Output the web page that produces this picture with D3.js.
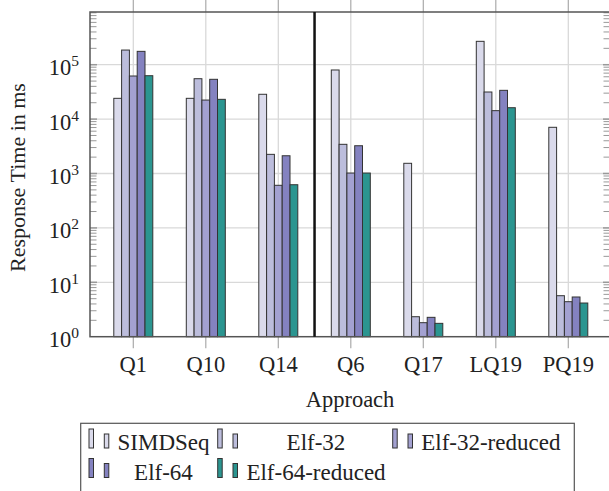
<!DOCTYPE html>
<html><head><meta charset="utf-8">
<script src="https://cdn.jsdelivr.net/npm/d3@7"></script>
<style>body{margin:0;background:#fff}svg{display:block}text{font-family:"Liberation Serif","Times New Roman",serif;fill:#222}</style>
</head><body>
<script>
const categories = ["Q1","Q10","Q14","Q6","Q17","LQ19","PQ19"];
const seriesNames = ["SIMDSeq","Elf-32","Elf-32-reduced","Elf-64","Elf-64-reduced"];
const simdseq      = [24100, 24100, 28600, 80000, 1540, 269000, 7070];
const elf32        = [186000, 55300, 2250, 3440, 2.33, 31500, 5.67];
const elf32reduced = [62000, 22400, 607, 1020, 1.81, 14300, 4.40];
const elf64        = [176000, 53900, 2120, 3240, 2.27, 33800, 5.37];
const elf64reduced = [62800, 23100, 622, 1020, 1.76, 16200, 4.16];
const seriesValues = [simdseq, elf32, elf32reduced, elf64, elf64reduced];
const colors = ["#dadaeb","#bcbddc","#a3a1d1","#8482c0","#2b9590"];
const yTicks = [1,10,100,1000,10000,100000];
const yTickExp = ["0","1","2","3","4","5"];

const W=609,H=491;
const L=90,R=610,T=12,B=336.7;
const svg=d3.select("body").append("svg").attr("width",W).attr("height",H);

const y=d3.scaleLog().domain([1,931000]).range([B,T]);
const x=d3.scalePoint().domain(categories).range([133.3,568.3]);
const bw=7.8;

const minor=[];
for(let d=0; d<6; d++) for(let m=2;m<=9;m++){const v=m*Math.pow(10,d); if(y(v)>=T) minor.push(v);}

svg.append("g").selectAll("line").data(yTicks.slice(1)).join("line")
  .attr("x1",L).attr("x2",R).attr("y1",d=>y(d)).attr("y2",d=>y(d))
  .attr("stroke","#d9d9d9").attr("stroke-width",1.3);
const vg=svg.append("g");
vg.selectAll("line.g").data(categories).join("line").attr("class","g")
  .attr("x1",d=>x(d)).attr("x2",d=>x(d)).attr("y1",T).attr("y2",B)
  .attr("stroke","#d9d9d9").attr("stroke-width",1.3);
vg.selectAll("line.t").data(categories).join("line").attr("class","t")
  .attr("x1",d=>x(d)).attr("x2",d=>x(d)).attr("y1",0).attr("y2",T)
  .attr("stroke","#aaa").attr("stroke-width",1.2);
vg.selectAll("line.b").data(categories).join("line").attr("class","b")
  .attr("x1",d=>x(d)).attr("x2",d=>x(d)).attr("y1",B).attr("y2",B+11.5)
  .attr("stroke","#aaa").attr("stroke-width",1.2);

const tk=svg.append("g").attr("stroke","#999").attr("stroke-width",1);
tk.selectAll("line.ml").data(minor).join("line").attr("class","ml")
  .attr("x1",L).attr("x2",L+6.5).attr("y1",d=>y(d)).attr("y2",d=>y(d));
tk.selectAll("line.mr").data(minor).join("line").attr("class","mr")
  .attr("x1",R-6.5).attr("x2",R).attr("y1",d=>y(d)).attr("y2",d=>y(d));
tk.selectAll("line.Ml").data(yTicks.slice(1)).join("line").attr("class","Ml")
  .attr("x1",L).attr("x2",L+7).attr("y1",d=>y(d)).attr("y2",d=>y(d)).attr("stroke-width",1.5);
tk.selectAll("line.Mr").data(yTicks.slice(1)).join("line").attr("class","Mr")
  .attr("x1",R-7).attr("x2",R).attr("y1",d=>y(d)).attr("y2",d=>y(d)).attr("stroke-width",1.5);

seriesValues.forEach((vals,si)=>{
  svg.append("g").selectAll("rect").data(vals).join("rect")
    .attr("x",(d,i)=>x(categories[i])+(si-2.5)*bw)
    .attr("width",bw)
    .attr("y",d=>y(d))
    .attr("height",d=>B-y(d))
    .attr("fill",colors[si])
    .attr("stroke","#333").attr("stroke-width",1);
});

svg.append("rect").attr("x",L).attr("y",T).attr("width",R-L).attr("height",B-T)
  .attr("fill","none").attr("stroke","#555").attr("stroke-width",1.5);

const sepX=(x("Q14")+x("Q6"))/2;
svg.append("line").attr("x1",sepX).attr("x2",sepX).attr("y1",T).attr("y2",B)
  .attr("stroke","#111").attr("stroke-width",2.5);

const yl=svg.append("g").selectAll("text").data(yTicks).join("text")
  .attr("x",79).attr("y",d=>y(d)+10.5).attr("text-anchor","end").style("font-size","22.5px");
yl.append("tspan").text("10");
yl.append("tspan").attr("dy",-9).style("font-size","15.5px").text((d,i)=>yTickExp[i]);

svg.append("g").selectAll("text").data(categories).join("text")
  .attr("x",d=>x(d)).attr("y",371.7).attr("text-anchor","middle").style("font-size","22.5px").text(d=>d);

svg.append("text").attr("x",350).attr("y",406.7).attr("text-anchor","middle").style("font-size","22.5px").text("Approach");
svg.append("text").attr("transform","translate(25,177.5) rotate(-90)").attr("text-anchor","middle").style("font-size","22px").text("Response Time in ms");

svg.append("rect").attr("x",80.7).attr("y",423.3).attr("width",574.3-80.7).attr("height",80)
  .attr("fill","#fff").attr("stroke","#555").attr("stroke-width",1.2);
const colIcon=[89,217.7,392.7];
const colText=[163.5,316,490.8];
const rowBase=[450,479.5];
seriesNames.forEach((name,i)=>{
  const r=Math.floor(i/3), c=i%3;
  const bx=colIcon[c], base=rowBase[r]-2;
  const g=svg.append("g");
  g.append("rect").attr("x",bx).attr("y",base-19).attr("width",4.5).attr("height",19)
    .attr("fill",colors[i]).attr("stroke","#333").attr("stroke-width",1);
  g.append("rect").attr("x",bx+15.3).attr("y",base-14).attr("width",4.5).attr("height",14)
    .attr("fill",colors[i]).attr("stroke","#333").attr("stroke-width",1);
  g.append("text").attr("x",colText[c]).attr("y",rowBase[r]).attr("text-anchor","middle")
    .style("font-size","23px").text(name);
});
</script>
</body></html>
